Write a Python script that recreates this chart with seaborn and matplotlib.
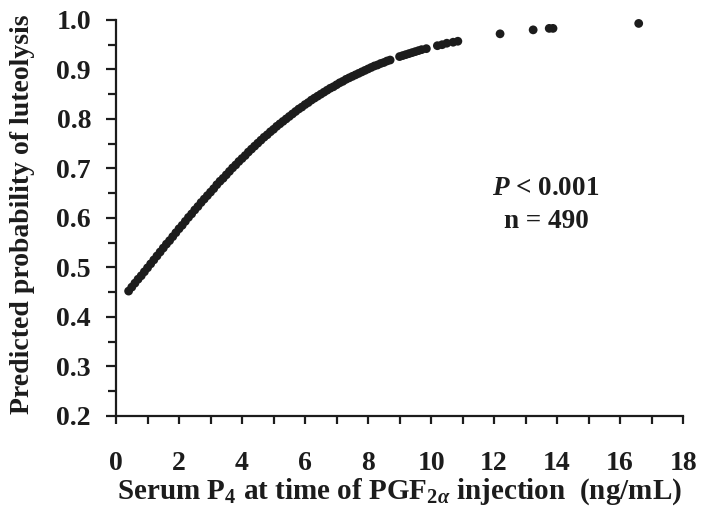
import matplotlib
matplotlib.use("Agg")
import matplotlib.pyplot as plt
from matplotlib.ticker import MultipleLocator
import seaborn as sns
import pandas as pd

# Serum P4 (ng/mL) of each plotted animal and its predicted probability of luteolysis
serum_p4 = [
    0.4, 0.5, 0.6, 0.7, 0.8, 0.9, 1.0, 1.1, 1.2, 1.3, 1.4, 1.5, 1.6, 1.7, 1.8, 1.9,
    2.0, 2.1, 2.2, 2.3, 2.4, 2.5, 2.6, 2.7, 2.8, 2.9, 3.0, 3.1, 3.2, 3.3, 3.4, 3.5,
    3.6, 3.7, 3.8, 3.9, 4.0, 4.1, 4.2, 4.3, 4.4, 4.5, 4.6, 4.7, 4.8, 4.9, 5.0, 5.1,
    5.2, 5.3, 5.4, 5.5, 5.6, 5.7, 5.8, 5.9, 6.0, 6.1, 6.2, 6.3, 6.4, 6.5, 6.6, 6.7,
    6.8, 6.9, 7.0, 7.1, 7.2, 7.3, 7.4, 7.5, 7.6, 7.7, 7.8, 7.9, 8.0, 8.1, 8.2, 8.3,
    8.4, 8.5, 8.6, 8.7,
    9.0, 9.1, 9.2, 9.3, 9.4, 9.5, 9.6, 9.7, 9.85,
    10.2, 10.35, 10.5, 10.7, 10.85,
    12.19, 13.24, 13.75, 13.87, 16.59,
]
prob_luteolysis = [
    0.452, 0.460, 0.468, 0.476, 0.483, 0.491, 0.499, 0.507, 0.515, 0.523, 0.531, 0.539, 0.547, 0.554, 0.562, 0.570,
    0.578, 0.585, 0.593, 0.601, 0.608, 0.616, 0.623, 0.631, 0.638, 0.645, 0.652, 0.659, 0.667, 0.674, 0.680, 0.687,
    0.694, 0.701, 0.707, 0.714, 0.720, 0.726, 0.733, 0.739, 0.745, 0.751, 0.757, 0.763, 0.768, 0.774, 0.779, 0.785,
    0.790, 0.795, 0.800, 0.805, 0.810, 0.815, 0.820, 0.824, 0.829, 0.833, 0.838, 0.842, 0.846, 0.850, 0.854, 0.858,
    0.862, 0.865, 0.869, 0.873, 0.876, 0.880, 0.883, 0.886, 0.889, 0.892, 0.895, 0.898, 0.901, 0.904, 0.907, 0.909,
    0.912, 0.914, 0.917, 0.919,
    0.926, 0.928, 0.930, 0.932, 0.934, 0.936, 0.938, 0.940, 0.942,
    0.948, 0.950, 0.953, 0.955, 0.957,
    0.972, 0.980, 0.983, 0.983, 0.993,
]

y_ticks = [0.2, 0.3, 0.4, 0.5, 0.6, 0.7, 0.8, 0.9, 1.0]
x_ticks = [0, 2, 4, 6, 8, 10, 12, 14, 16, 18]

df = pd.DataFrame({"p4": serum_p4, "prob": prob_luteolysis})

sns.set_style("white")
ink = "#1c1c1c"
plt.rcParams["font.family"] = ["Liberation Serif", "DejaVu Serif"]
plt.rcParams["font.weight"] = "bold"
plt.rcParams["mathtext.fontset"] = "custom"
plt.rcParams["mathtext.rm"] = "Liberation Serif:bold"
plt.rcParams["mathtext.it"] = "Liberation Serif:bold:italic"
plt.rcParams["mathtext.bf"] = "Liberation Serif:bold"

fig = plt.figure(figsize=(7.01, 5.12), dpi=100)
ax = fig.add_axes([0.1655, 0.188, 0.809, 0.773])

sns.scatterplot(data=df, x="p4", y="prob", ax=ax, s=40, color=ink,
                linewidth=0, edgecolor="none", clip_on=False, zorder=3)

ax.set_xlim(0, 18)
ax.set_ylim(0.2, 1.0)
ax.set_xticks(x_ticks)
ax.set_yticks(y_ticks)
ax.set_xticklabels([str(v) for v in x_ticks])
ax.set_yticklabels([f"{v:.1f}" for v in y_ticks])
ax.xaxis.set_minor_locator(MultipleLocator(1))
ax.yaxis.set_minor_locator(MultipleLocator(0.05))

for side in ("top", "right"):
    ax.spines[side].set_visible(False)
for side in ("left", "bottom"):
    ax.spines[side].set_color(ink)
    ax.spines[side].set_linewidth(1.6)

ax.tick_params(axis="y", which="major", direction="out", length=7, width=1.6,
               color=ink, labelsize=20, labelcolor=ink, pad=11, left=True)
ax.tick_params(axis="y", which="minor", direction="out", length=6, width=1.6,
               color=ink, left=True)
ax.tick_params(axis="x", which="major", direction="out", length=5.5, width=1.6,
               color=ink, labelsize=20, labelcolor=ink, pad=20, bottom=True)
ax.tick_params(axis="x", which="minor", direction="out", length=5.5, width=1.6,
               color=ink, bottom=True)
for lab in ax.get_xticklabels() + ax.get_yticklabels():
    lab.set_fontweight("bold")

ax.set_xlabel(r"Serum P$_4$ at time of PGF$_{2\alpha}$ injection  (ng/mL)",
              fontsize=21, fontweight="bold", color=ink)
ax.set_ylabel("Predicted probability of luteolysis",
              fontsize=20, fontweight="bold", color=ink)
ax.xaxis.set_label_coords(0.5, -0.152)
ax.yaxis.set_label_coords(-0.143, 0.508)

ax.text(13.65, 0.660, r"$P$ < 0.001", ha="center", va="center",
        fontsize=19.5, fontweight="bold", color=ink)
ax.text(13.65, 0.592, "n = 490", ha="center", va="center",
        fontsize=19.5, fontweight="bold", color=ink)

ax.grid(False)
fig.savefig("out.png", dpi=100, facecolor="white")
